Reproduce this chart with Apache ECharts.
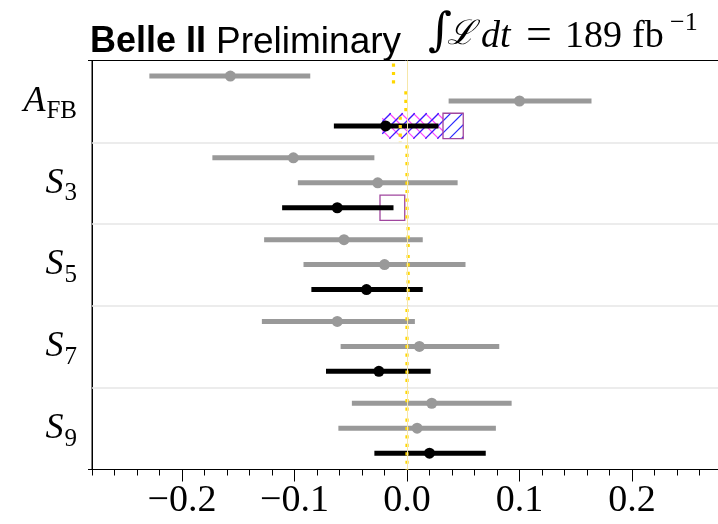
<!DOCTYPE html>
<html>
<head>
<meta charset="utf-8">
<title>Angular observables</title>
<script src="https://cdn.jsdelivr.net/npm/echarts@6/dist/echarts.min.js"></script>
<style>
  html, body { margin: 0; padding: 0; background: #ffffff; }
  #chart { width: 718px; height: 524px; }
</style>
</head>
<body>
<div id="chart"></div>
<script>
// Observables, top to bottom
const observables = ['A_FB', 'S_3', 'S_5', 'S_7', 'S_9'];
const xTickValues = [-0.2, -0.1, 0.0, 0.1, 0.2];

// Two gray measurements per observable (central value and interval)
const grayCentral = [[-0.157, 0.100], [-0.101, -0.026], [-0.056, -0.020], [-0.062, 0.011], [0.022, 0.009]];
const grayLow     = [[-0.229, 0.037], [-0.173, -0.097], [-0.127, -0.092], [-0.129, -0.059], [-0.049, -0.061]];
const grayHigh    = [[-0.086, 0.164], [-0.029, 0.045], [0.014, 0.052], [0.007, 0.082], [0.093, 0.079]];

// Main (black) measurement per observable
const blackCentral = [-0.019, -0.062, -0.036, -0.025, 0.020];
const blackLow     = [-0.065, -0.111, -0.085, -0.072, -0.029];
const blackHigh    = [0.028, -0.012, 0.014, 0.021, 0.070];

// Standard Model expectation for each row
const smValues = [[-0.012, -0.001, -0.006], [0, 0, 0], [0.001, 0.001, 0.001], [0, 0, 0], [0, 0, 0]];

// Prediction ranges drawn as boxes on the black row
const afbBlueHatch    = [-0.022, 0.050];
const afbMagentaHatch = [-0.022, 0.032];
const afbEdgeBox      = [0.032, 0.050];
const s3EdgeBox       = [-0.024, -0.002];

// Layout inside each observable band
const rowOffset = [0.19, 0.495, 0.8];
const rowBounds = [0, 0.34, 0.65, 1];
const BOX_HALF = 0.155;

const grayBars = [], grayPts = [], blackBars = [], blackPts = [], smSegs = [];
observables.forEach((o, i) => {
  for (let r = 0; r < 2; r++) {
    grayBars.push([grayLow[i][r], grayHigh[i][r], i + rowOffset[r]]);
    grayPts.push([grayCentral[i][r], i + rowOffset[r]]);
  }
  blackBars.push([blackLow[i], blackHigh[i], i + rowOffset[2]]);
  blackPts.push([blackCentral[i], i + rowOffset[2]]);
  for (let r = 0; r < 3; r++) smSegs.push([smValues[i][r], i + rowBounds[r], i + rowBounds[r + 1]]);
});

// kind: 0 blue '/', 1 magenta 'x', 2 purple outline
const boxes = [
  [afbMagentaHatch[0], afbMagentaHatch[1], 0 + rowOffset[2], 1],
  [afbBlueHatch[0], afbBlueHatch[1], 0 + rowOffset[2], 0],
  [afbEdgeBox[0], afbEdgeBox[1], 0 + rowOffset[2], 2],
  [s3EdgeBox[0], s3EdgeBox[1], 1 + rowOffset[2], 2]
];

function hatch(r, step, dir, color, phase) {
  const segs = [];
  const style = { stroke: color, lineWidth: 1.1 };
  if (dir > 0) { // '/' : x + y = c
    const cStart = Math.ceil((r.x0 + r.y0 - phase) / step) * step + phase;
    for (let c = cStart; c <= r.x1 + r.y1; c += step) {
      const xa = Math.max(r.x0, c - r.y1), xb = Math.min(r.x1, c - r.y0);
      if (xb > xa) segs.push({ type: 'line', shape: { x1: xa, y1: c - xa, x2: xb, y2: c - xb }, style });
    }
  } else { // '\' : x - y = c
    const cStart = Math.ceil((r.x0 - r.y1 - phase) / step) * step + phase;
    for (let c = cStart; c <= r.x1 - r.y0; c += step) {
      const xa = Math.max(r.x0, r.y0 + c), xb = Math.min(r.x1, r.y1 + c);
      if (xb > xa) segs.push({ type: 'line', shape: { x1: xa, y1: xa - c, x2: xb, y2: xb - c }, style });
    }
  }
  return segs;
}

function intervalItem(color) {
  return function (params, api) {
    const a = api.coord([api.value(0), api.value(2)]);
    const b = api.coord([api.value(1), api.value(2)]);
    return { type: 'line', shape: { x1: a[0], y1: a[1], x2: b[0], y2: b[1] },
             style: { stroke: color, lineWidth: 5, lineCap: 'butt' } };
  };
}

function minusFmt(v) {
  return (v < -1e-9 ? '\u2212' : '') + Math.abs(v).toFixed(1);
}

const chart = echarts.init(document.getElementById('chart'), null, { renderer: 'canvas' });

const option = {
  animation: false,
  grid: { left: 92, width: 630, top: 60.5, height: 409, containLabel: false, outerBoundsMode: 'none',
          show: true, borderColor: '#000', borderWidth: 1, backgroundColor: 'transparent' },
  xAxis: [
    {
      type: 'value', position: 'bottom', min: -0.28, max: 0.28, interval: 0.02,
      axisLine: { show: true, onZero: false, lineStyle: { color: '#000', width: 1 } },
      axisTick: { show: true, length: 6, lineStyle: { color: '#000', width: 1 } },
      axisLabel: { show: false }, splitLine: { show: false }
    },
    {
      type: 'value', position: 'bottom', min: -0.28, max: 0.28,
      axisLine: { show: true, onZero: false, lineStyle: { color: '#000', width: 1 } },
      axisTick: { show: true, length: 12, customValues: xTickValues, lineStyle: { color: '#000', width: 1 } },
      axisLabel: { show: true, customValues: xTickValues, formatter: minusFmt, margin: 13,
                   fontFamily: 'Liberation Serif', fontSize: 38, color: '#000' },
      splitLine: { show: false }
    }
  ],
  yAxis: [
    {
      type: 'value', position: 'left', min: 0, max: 5, interval: 5, inverse: true,
      axisLine: { show: true, onZero: false, lineStyle: { color: '#000', width: 1 } },
      axisTick: { show: true, length: 4, lineStyle: { color: '#000' } },
      axisLabel: { show: false }, splitLine: { show: false }
    },
    {
      type: 'category', data: observables, inverse: true, position: 'left',
      axisLine: { show: false, onZero: false }, axisTick: { show: false }, splitLine: { show: false },
      axisLabel: {
        margin: 15,
        formatter: function (name) {
          const p = name.split('_');
          return '{it|' + p[0] + '}{sub|' + p[1] + '}';
        },
        rich: {
          it: { fontFamily: 'Liberation Serif', fontStyle: 'italic', fontSize: 36, color: '#000', lineHeight: 40 },
          sub: { fontFamily: 'Liberation Serif', fontSize: 25, color: '#000', lineHeight: 20, padding: [21, 0, 0, 1] }
        }
      }
    }
  ],
  series: [
    {
      name: 'Predictions', type: 'custom', xAxisIndex: 0, yAxisIndex: 0, z: 1,
      data: boxes, encode: { x: [0, 1], y: 2 },
      renderItem: function (params, api) {
        const lo = api.value(0), hi = api.value(1), yc = api.value(2), kind = api.value(3);
        const a = api.coord([lo, yc - BOX_HALF]), b = api.coord([hi, yc + BOX_HALF]);
        const r = { x0: Math.min(a[0], b[0]), x1: Math.max(a[0], b[0]), y0: Math.min(a[1], b[1]), y1: Math.max(a[1], b[1]) };
        if (kind === 2) {
          return { type: 'rect', shape: { x: r.x0, y: r.y0, width: r.x1 - r.x0, height: r.y1 - r.y0 },
                   style: { fill: 'none', stroke: '#a0469e', lineWidth: 1.3 } };
        }
        const children = kind === 0
          ? hatch(r, 12, 1, '#2a2aff', 0)
          : hatch(r, 12, 1, '#ff40ff', 0).concat(hatch(r, 12, -1, '#ff40ff', 0));
        return { type: 'group', children };
      },
      markLine: {
        silent: true, symbol: 'none', label: { show: false },
        lineStyle: { color: '#e6e6e6', width: 1.5, type: 'solid' },
        data: [{ yAxis: 1 }, { yAxis: 2 }, { yAxis: 3 }, { yAxis: 4 },
               { xAxis: 0, lineStyle: { color: '#f6e7a8', width: 1 } }]
      }
    },
    { name: 'Gray intervals', type: 'custom', xAxisIndex: 0, yAxisIndex: 0, z: 2,
      data: grayBars, encode: { x: [0, 1], y: 2 }, renderItem: intervalItem('#999999') },
    { name: 'Black intervals', type: 'custom', xAxisIndex: 0, yAxisIndex: 0, z: 2,
      data: blackBars, encode: { x: [0, 1], y: 2 }, renderItem: intervalItem('#000000') },
    { name: 'Gray points', type: 'scatter', xAxisIndex: 0, yAxisIndex: 0, z: 3,
      data: grayPts, symbol: 'circle', symbolSize: 11, itemStyle: { color: '#999999', opacity: 1 } },
    { name: 'Black points', type: 'scatter', xAxisIndex: 0, yAxisIndex: 0, z: 3,
      data: blackPts, symbol: 'circle', symbolSize: 11, itemStyle: { color: '#000000', opacity: 1 } },
    {
      name: 'SM', type: 'custom', xAxisIndex: 0, yAxisIndex: 0, z: 4,
      data: smSegs, encode: { x: 0, y: [1, 2] },
      renderItem: function (params, api) {
        const a = api.coord([api.value(0), api.value(1)]);
        const b = api.coord([api.value(0), api.value(2)]);
        return { type: 'line', shape: { x1: a[0], y1: a[1] + 3, x2: b[0], y2: b[1] },
                 style: { stroke: '#ffd700', lineWidth: 3.2, lineDash: [3.2, 5.2] } };
      }
    }
  ],
  graphic: [
    { type: 'text', x: 90, y: 24, style: { text: 'Belle II', font: 'bold 36px "Liberation Sans"', fill: '#000' } },
    { type: 'text', x: 216, y: 24, style: { text: 'Preliminary', font: '37px "Liberation Sans"', fill: '#000' } },
    { type: 'text', x: 428, y: 10, style: { text: '\u222B', font: 'italic 46px "DejaVu Serif"', fill: '#000' } },
    { type: 'text', x: 447, y: 18, style: { text: '\u2112', font: 'italic 34px "DejaVu Serif"', fill: '#000' } },
    { type: 'text', x: 481, y: 18, style: { text: 'dt', font: 'italic 38px "Liberation Serif"', fill: '#000' } },
    { type: 'text', x: 526, y: 14, style: { text: '=', font: '46px "Liberation Serif"', fill: '#000' } },
    { type: 'text', x: 565, y: 18, style: { text: '189', font: '38px "Liberation Serif"', fill: '#000' } },
    { type: 'text', x: 632, y: 18, style: { text: 'fb', font: '38px "Liberation Serif"', fill: '#000' } },
    { type: 'text', x: 670, y: 10, style: { text: '\u22121', font: '26px "Liberation Serif"', fill: '#000' } }
  ]
};

chart.setOption(option);
</script>
</body>
</html>
